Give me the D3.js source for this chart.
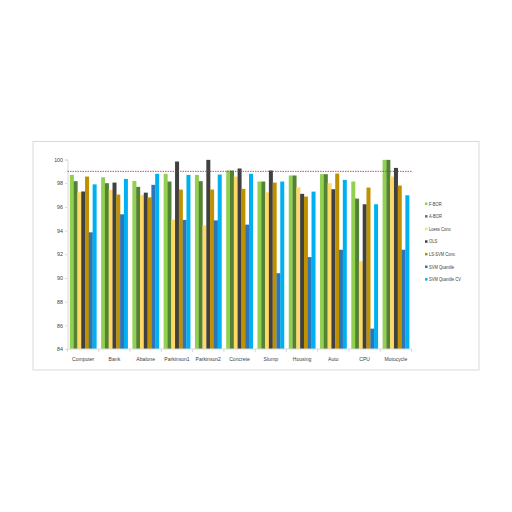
<!DOCTYPE html>
<html><head><meta charset="utf-8">
<script src="https://cdn.jsdelivr.net/npm/d3@7"></script>
<style>body{margin:0;background:#fff}svg{display:block}</style>
</head><body>
<script>
const categories = ["Computer","Bank","Abalone","Parkinson1","Parkinson2","Concrete","Slump","Housing","Auto","CPU","Motocycle"];
const seriesNames = ["F-BOR","A-BOR","Loess Conv.","OLS","LS-SVM Conv.","SVM Quantile","SVM Quantile CV"];
const fbor   = [98.70,98.50,98.19,98.79,98.70,99.07,98.14,98.65,98.76,98.14,99.97];
const abor   = [98.17,98.00,97.69,98.14,98.17,99.07,98.14,98.65,98.76,96.70,99.97];
const loess  = [97.23,97.43,97.00,94.92,94.44,98.56,97.23,97.66,98.00,91.42,98.56];
const ols    = [97.30,98.05,97.20,99.83,99.97,99.24,99.07,97.10,97.49,96.22,99.29];
const lssvm  = [98.56,97.04,96.80,97.46,97.46,97.52,98.05,96.87,98.81,97.63,97.80];
const svmq   = [93.85,95.37,97.86,94.90,94.86,94.50,90.40,91.76,92.38,85.72,92.38];
const svmqcv = [97.90,98.36,98.79,98.70,98.73,98.79,98.14,97.29,98.28,96.22,96.98];
const yTicks = [84,86,88,90,92,94,96,98,100];
const refLine = 99;
const colors = ["#92D050","#548235","#FFD966","#404040","#BF9000","#2E75B6","#00B0F0"];
const series = [fbor,abor,loess,ols,lssvm,svmq,svmqcv];

const svg = d3.select("body").append("svg").attr("width",512).attr("height",512);
svg.append("rect").attr("x",33).attr("y",141.5).attr("width",446).attr("height",228.5)
  .attr("fill","#fff").attr("stroke","#d9d9d9").attr("stroke-width",1);

const x0 = d3.scaleBand().domain(categories).range([67.5,411.5]).paddingInner(0.15).paddingOuter(0.075);
const x1 = d3.scaleBand().domain(d3.range(7)).range([0,x0.bandwidth()]);
const y = d3.scaleLinear().domain([84,100]).range([349,159.5]);
const font = "'Liberation Sans Narrow','Liberation Sans',Arial,sans-serif";

// bars
const g = svg.append("g");
categories.forEach((c,ci)=>{
  series.forEach((s,si)=>{
    g.append("rect").attr("x",x0(c)+x1(si)).attr("width",x1.bandwidth()+0.2)
      .attr("y",y(s[ci])).attr("height",y(84)-y(s[ci])).attr("fill",colors[si]);
  });
});

// y axis
const yAxis = svg.append("g").attr("transform","translate(67.5,0)")
  .call(d3.axisLeft(y).tickValues(yTicks).tickSize(2.5).tickPadding(2));
yAxis.select(".domain").attr("stroke","#d9d9d9");
yAxis.selectAll(".tick line").attr("stroke","#d9d9d9");
yAxis.selectAll("text").attr("font-family",font).attr("font-size",5.3).attr("fill","#404040");

// x axis
const xScaleEdges = d3.scaleLinear().domain([0,categories.length]).range([67.5,411.5]);
const xAxis = svg.append("g").attr("transform","translate(0,349)");
xAxis.append("line").attr("x1",67.5).attr("x2",411.5).attr("y1",0).attr("y2",0).attr("stroke","#d9d9d9");
d3.range(categories.length+1).forEach(i=>{
  xAxis.append("line").attr("x1",xScaleEdges(i)).attr("x2",xScaleEdges(i)).attr("y1",0).attr("y2",3).attr("stroke","#d9d9d9");
});
categories.forEach(c=>{
  const cx = x0(c)+x0.bandwidth()/2;
  xAxis.append("text").attr("transform",`translate(${cx},11.5) scale(0.85,1)`).attr("text-anchor","middle")
    .attr("font-family",font).attr("font-size",6).attr("fill","#404040").text(c);
});

// reference dashed line
svg.append("line").attr("x1",67.5).attr("x2",411.5).attr("y1",y(refLine)).attr("y2",y(refLine))
  .attr("stroke","#B0302C").attr("stroke-width",0.8).attr("stroke-dasharray","1.5,1");

// legend
const lg = svg.append("g");
seriesNames.forEach((n,i)=>{
  const yy = 204 + i*12.6;
  lg.append("rect").attr("x",425).attr("y",yy-1.5).attr("width",2.5).attr("height",2.5).attr("fill",colors[i]);
  lg.append("text").attr("transform",`translate(429,${yy+1.5}) scale(0.85,1)`).attr("font-family",font).attr("font-size",4.8)
    .attr("fill","#404040").text(n);
});
</script>
</body></html>
